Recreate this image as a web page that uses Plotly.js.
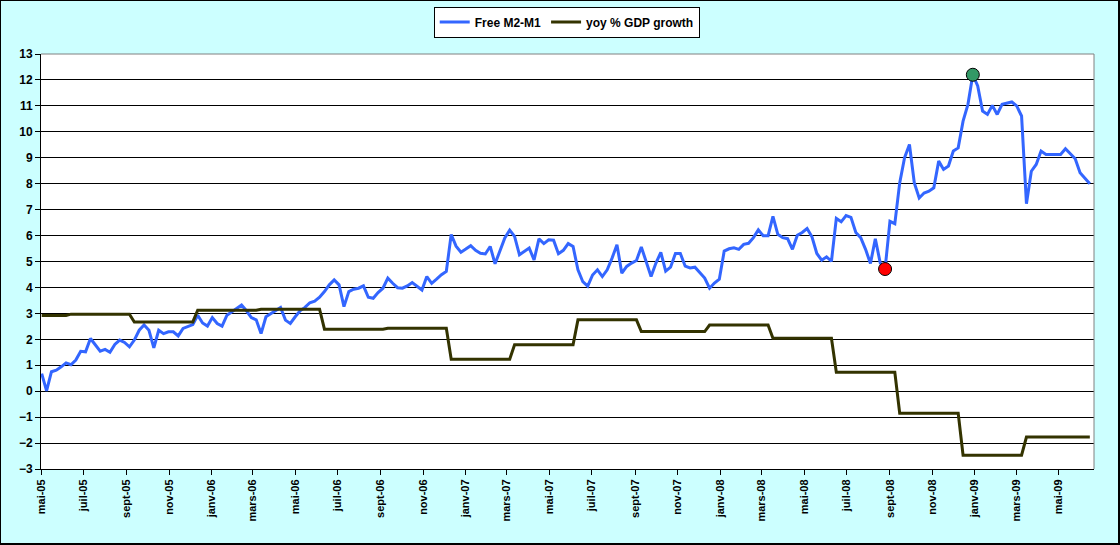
<!DOCTYPE html>
<html>
<head>
<meta charset="utf-8">
<script src="https://cdn.plot.ly/plotly-3.0.1.min.js"></script>
<style>
  body { margin: 0; background: #CCFFFF; }
  #wrap { position: relative; width: 1120px; height: 545px; }
  #plot { width: 1120px; height: 545px; }
  #frame { position: absolute; left: 0; top: 0; width: 1120px; height: 545px; box-sizing: border-box;
           border: 1px solid #000; border-right-width: 2px; border-bottom-width: 2px; pointer-events: none; }
</style>
</head>
<body>
<div id="wrap"><div id="plot"></div><div id="frame"></div></div>
<script>
// weekly observations, first week starting 2005-05-02
const firstWeek = '2005-05-02';

const freeM2M1 = [
  0.68, 0.01, 0.75, 0.81, 0.94, 1.09, 1.02, 1.2, 1.54, 1.52,
  2.03, 1.77, 1.54, 1.61, 1.5, 1.8, 1.97, 1.88, 1.71, 1.97,
  2.35, 2.55, 2.35, 1.67, 2.35, 2.22, 2.29, 2.29, 2.13, 2.42,
  2.51, 2.57, 2.93, 2.63, 2.51, 2.84, 2.61, 2.51, 2.93, 3.06,
  3.19, 3.32, 3.1, 2.84, 2.75, 2.22, 2.87, 3.0, 3.13, 3.23,
  2.74, 2.61, 2.87, 3.1, 3.23, 3.41, 3.47, 3.62, 3.84, 4.1,
  4.29, 4.1, 3.26, 3.84, 3.93, 3.97, 4.06, 3.62, 3.58, 3.8,
  3.97, 4.36, 4.16, 3.99, 3.97, 4.06, 4.19, 4.03, 3.9, 4.42,
  4.16, 4.32, 4.49, 4.62, 6.04, 5.59, 5.36, 5.48, 5.61, 5.43,
  5.32, 5.29, 5.58, 4.91, 5.45, 5.91, 6.21, 5.97, 5.26, 5.39,
  5.52, 5.06, 5.87, 5.69, 5.84, 5.82, 5.3, 5.43, 5.69, 5.58,
  4.68, 4.22, 4.05, 4.48, 4.68, 4.42, 4.68, 5.13, 5.65, 4.55,
  4.81, 4.94, 5.04, 5.56, 5.0, 4.42, 4.94, 5.35, 4.63, 4.78,
  5.31, 5.31, 4.82, 4.75, 4.78, 4.58, 4.36, 3.97, 4.17, 4.32,
  5.4, 5.49, 5.53, 5.47, 5.66, 5.7, 5.92, 6.22, 5.99, 5.99,
  6.74, 6.05, 5.92, 5.88, 5.47, 6.01, 6.12, 6.27, 5.95, 5.31,
  5.05, 5.18, 5.01, 6.66, 6.53, 6.77, 6.7, 6.12, 5.92, 5.47,
  4.92, 5.88, 4.95, 4.71, 6.55, 6.46, 8.03, 9.0, 9.51, 8.03,
  7.45, 7.64, 7.71, 7.84, 8.87, 8.55, 8.68, 9.26, 9.38, 10.41,
  11.06, 12.2, 11.77, 10.8, 10.67, 11.02, 10.67, 11.06, 11.1, 11.15,
  11.0, 10.61, 7.23, 8.48, 8.74, 9.26, 9.13, 9.13, 9.13, 9.13,
  9.35, 9.16, 8.96, 8.42, 8.22, 8.0
];

// yoy GDP growth: value in force from each release week
const gdpFrom = [
  '2005-05-02', '2005-06-13', '2005-09-12', '2005-12-12', '2006-03-13', '2006-06-12',
  '2006-09-11', '2006-12-11', '2007-03-12', '2007-06-11', '2007-09-10', '2007-12-17',
  '2008-03-17', '2008-06-16', '2008-09-15', '2008-12-15', '2009-03-16'
];
const gdpGrowth = [
  2.92, 2.97, 2.67, 3.12, 3.16, 2.39,
  2.43, 1.23, 1.79, 2.75, 2.30, 2.55,
  2.04, 0.73, -0.85, -2.47, -1.77
];

// highlighted weeks (low before the jump, peak)
const lowWeek = 173;
const highWeek = 191;

const tickDates = [
  '2005-05-01', '2005-07-01', '2005-09-01', '2005-11-01', '2006-01-01', '2006-03-01',
  '2006-05-01', '2006-07-01', '2006-09-01', '2006-11-01', '2007-01-01', '2007-03-01',
  '2007-05-01', '2007-07-01', '2007-09-01', '2007-11-01', '2008-01-01', '2008-03-01',
  '2008-05-01', '2008-07-01', '2008-09-01', '2008-11-01', '2009-01-01', '2009-03-01',
  '2009-05-01'
];
const tickLabels = [
  'mai-05', 'juil-05', 'sept-05', 'nov-05', 'janv-06', 'mars-06',
  'mai-06', 'juil-06', 'sept-06', 'nov-06', 'janv-07', 'mars-07',
  'mai-07', 'juil-07', 'sept-07', 'nov-07', 'janv-08', 'mars-08',
  'mai-08', 'juil-08', 'sept-08', 'nov-08', 'janv-09', 'mars-09',
  'mai-09'
];

const weeks = freeM2M1.map((v, i) => {
  const d = new Date(Date.parse(firstWeek + 'T00:00:00Z') + i * 7 * 864e5);
  return d.toISOString().slice(0, 10);
});

// hold each GDP figure until the next release
const gdpWeekly = weeks.map((w) => {
  let val = gdpGrowth[0];
  gdpFrom.forEach((f, k) => { if (w >= f) val = gdpGrowth[k]; });
  return val;
});

const font = { family: 'Liberation Sans, Arial, sans-serif', size: 12, color: '#000', weight: 'bold' };

const traces = [
  {
    x: weeks, y: freeM2M1, name: 'Free M2-M1',
    mode: 'lines', type: 'scatter',
    line: { color: '#3366FF', width: 3 }
  },
  {
    x: weeks, y: gdpWeekly, name: 'yoy % GDP growth',
    mode: 'lines', type: 'scatter',
    line: { color: '#333300', width: 3 }
  },
  {
    x: [weeks[lowWeek]], y: [freeM2M1[lowWeek]],
    mode: 'markers', type: 'scatter', showlegend: false,
    marker: { color: '#FF0000', size: 13, line: { color: '#000', width: 1 } }
  },
  {
    x: [weeks[highWeek]], y: [freeM2M1[highWeek]],
    mode: 'markers', type: 'scatter', showlegend: false,
    marker: { color: '#339966', size: 13, line: { color: '#000', width: 1 } }
  }
];

const layout = {
  width: 1120,
  height: 545,
  margin: { l: 41, r: 26, t: 54, b: 76 },
  paper_bgcolor: '#CCFFFF',
  plot_bgcolor: '#FFFFFF',
  font: font,
  showlegend: true,
  legend: {
    orientation: 'h', xref: 'container', yref: 'container',
    x: 0.506, xanchor: 'center', y: 0.988, yanchor: 'top',
    bgcolor: '#FFFFFF', bordercolor: '#000', borderwidth: 1,
    font: font, itemwidth: 30
  },
  xaxis: {
    type: 'date',
    range: ['2005-05-01', '2009-06-21'],
    tickvals: tickDates, ticktext: tickLabels,
    tickangle: -90,
    tickfont: { family: font.family, size: 11, color: '#000', weight: 'bold' },
    ticks: 'outside', ticklen: 5, tickcolor: '#000',
    showline: true, linecolor: '#000', linewidth: 1,
    showgrid: false, zeroline: false
  },
  yaxis: {
    range: [-3, 13], dtick: 1, tick0: -3,
    tickfont: { family: font.family, size: 12, color: '#000', weight: 'bold' },
    ticks: 'outside', ticklen: 5, tickcolor: '#000',
    showline: true, linecolor: '#000', linewidth: 1,
    showgrid: true, gridcolor: '#000', gridwidth: 1,
    zeroline: false
  },
  shapes: [
    { type: 'line', xref: 'paper', yref: 'paper', x0: 0, x1: 1, y0: 1, y1: 1, line: { color: '#808080', width: 1 } },
    { type: 'line', xref: 'paper', yref: 'paper', x0: 1, x1: 1, y0: 0, y1: 1, line: { color: '#808080', width: 1 } }
  ]
};

Plotly.newPlot('plot', traces, layout, { displayModeBar: false, staticPlot: true });
</script>
</body>
</html>
